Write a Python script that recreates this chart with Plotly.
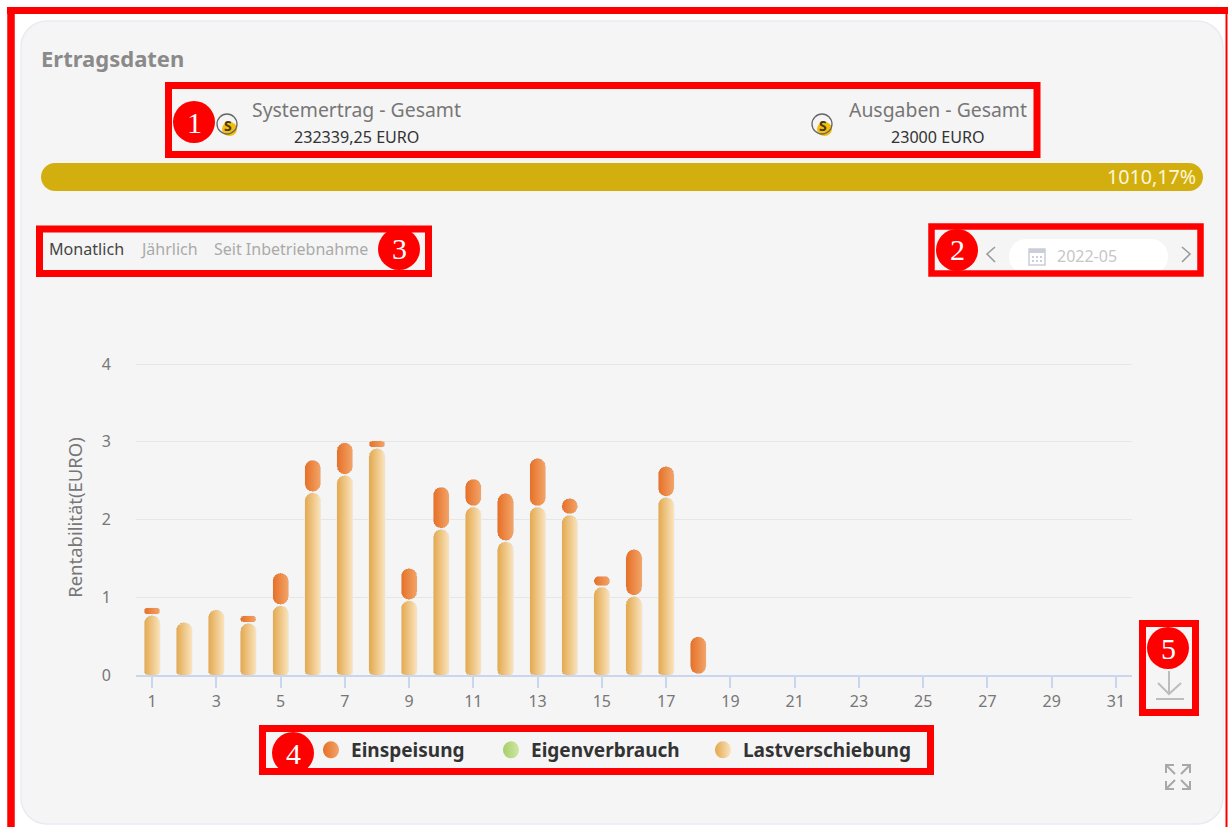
import plotly.graph_objects as go

days = list(range(1, 32))
tick_days = list(range(1, 32, 2))
lastverschiebung = [0.767, 0.677, 0.84, 0.665, 0.892, 2.345, 2.568, 2.915, 0.956, 1.874, 2.161, 1.715,
                    2.161, 2.058, 1.132, 1.012, 2.285, 0] + [0] * 13
einspeisung = [0.099, 0, 0, 0.098, 0.42, 0.42, 0.42, 0.095, 0.416, 0.544, 0.36, 0.622,
               0.626, 0.214, 0.141, 0.604, 0.399, 0.493] + [0] * 13
eigenverbrauch = [0] * 31

L, R, T, B = 136, 1132, 360, 675
UNIT = 77.75
PX = lambda x: (x - L) / (R - L)
PY = lambda y: 1 - (y - T) / (B - T)
RED = "#ff0000"
shapes, notes = [], []


def path(d, line=None, width=0, fill=None, layer="above"):
    shapes.append(dict(type="path", xref="paper", yref="paper", path=d, layer=layer,
                       fillcolor=fill or "rgba(0,0,0,0)",
                       line=dict(color=line or "rgba(0,0,0,0)", width=width)))


def poly(pts, color, width, layer="above"):
    d = "M" + " L".join(f"{PX(x):.5f},{PY(y):.5f}" for x, y in pts)
    path(d, color, width, None, layer)


def rr(x0, y0, x1, y1, r):
    p = lambda x, y: f"{PX(x):.5f},{PY(y):.5f}"
    k = r * 0.45
    return (f"M{p(x0 + r, y0)} L{p(x1 - r, y0)} C{p(x1 - k, y0)} {p(x1, y0 + k)} {p(x1, y0 + r)} L{p(x1, y1 - r)} "
            f"C{p(x1, y1 - k)} {p(x1 - k, y1)} {p(x1 - r, y1)} L{p(x0 + r, y1)} C{p(x0 + k, y1)} {p(x0, y1 - k)} {p(x0, y1 - r)} "
            f"L{p(x0, y0 + r)} C{p(x0, y0 + k)} {p(x0 + k, y0)} {p(x0 + r, y0)} Z")


def box(x0, y0, x1, y1, line=None, width=0, fill=None, layer="above", kind="rect"):
    shapes.append(dict(type=kind, xref="paper", yref="paper", x0=PX(x0), x1=PX(x1), y0=PY(y0), y1=PY(y1),
                       layer=layer, fillcolor=fill or "rgba(0,0,0,0)",
                       line=dict(color=line or "rgba(0,0,0,0)", width=width)))


def text(x, y, s, size, color, anchor="left", bold=False, family="Noto Sans"):
    notes.append(dict(xref="paper", yref="paper", x=PX(x), y=PY(y), text=f"<b>{s}</b>" if bold else s,
                      showarrow=False, xanchor=anchor, yanchor="middle", borderpad=0,
                      font=dict(size=size, color=color, family=family)))


# card and progress bar
path(rr(21, 21, 1223, 824, 26), "#e9ebf2", 1.5, "#f5f5f5", "below")
path(rr(41, 163, 1203, 191, 14), None, 0, "#d2af0f", "below")
path(rr(1009, 239, 1168, 274, 17), None, 0, "#ffffff", "below")

# coin icons
for cx in (228, 823):
    box(cx - 6, 122, cx + 9, 136, fill="#f5bd0c", kind="circle")
    box(cx - 11, 114, cx + 9, 134, "#666666", 1.3, kind="circle")
    text(cx, 125, "S", 14, "#4a3a10", "center", True)

# chevrons
poly([(995, 247), (987, 254), (995, 262)], "#9a9a9a", 1.6)
poly([(1182, 247), (1190, 254), (1182, 262)], "#9a9a9a", 1.6)

# calendar icon
box(1029, 249, 1045, 265, "#c9ced8", 1.5)
box(1029, 249, 1045, 253, None, 0, "#c9ced8")
for gx in (1033, 1037, 1041):
    for gy in (257, 261):
        box(gx - 1, gy - 1, gx + 1, gy + 1, None, 0, "#c9ced8")

# download icon
poly([(1169, 671), (1169, 694)], "#bdbdbd", 2)
poly([(1158, 683), (1169, 694), (1181, 683)], "#bdbdbd", 2)
poly([(1156, 699), (1184, 699)], "#bdbdbd", 2)

# expand icon
for (cx, cy, sx, sy) in [(1166, 765, 1, 1), (1190, 765, -1, 1), (1166, 789, 1, -1), (1190, 789, -1, -1)]:
    poly([(cx, cy), (cx + 9 * sx, cy + 9 * sy)], "#a8a8a8", 2)
    poly([(cx + 8 * sx, cy), (cx, cy), (cx, cy + 8 * sy)], "#a8a8a8", 2)

# callout frames
poly([(7, 10.5), (1228, 10.5)], RED, 7)
poly([(11, 7), (11, 827)], RED, 7.5)
poly([(1226.5, 7), (1226.5, 827)], RED, 2)
box(168.5, 85.5, 1037, 154.5, RED, 7)
box(931.5, 226.5, 1200.5, 273.5, RED, 6.5)
box(39.5, 229, 428.5, 273.5, RED, 7)
box(262.5, 728.5, 930.5, 771.5, RED, 7)
box(1142.5, 623.5, 1195.5, 712.5, RED, 7)

for n, cx, cy in [(1, 194, 122), (2, 957, 250), (3, 399, 249), (4, 293, 753), (5, 1168, 648)]:
    box(cx - 21, cy - 21, cx + 21, cy + 21, None, 0, RED, kind="circle")
    text(cx, cy, str(n), 30, "#ffffff", "center", family="Liberation Serif")

# texts
text(40, 58, "Ertragsdaten", 22, "#8a8a8a", bold=True)
text(251, 109, "Systemertrag - Gesamt", 19.4, "#777777")
text(848, 109, "Ausgaben - Gesamt", 19.4, "#777777")
text(293, 137, "232339,25 EURO", 16.1, "#333333")
text(890, 137, "23000 EURO", 16.1, "#333333")
text(1197, 177, "1010,17%", 19.7, "#fff6d8", "right")
text(48, 249, "Monatlich", 16.1, "#444444")
text(139, 249, "Jährlich", 16, "#aaaaaa")
text(213, 249, "Seit Inbetriebnahme", 16, "#aaaaaa")
text(1056, 256, "2022-05", 16, "#c6c6c6")

fig = go.Figure()
fig.add_bar(x=days, y=lastverschiebung, name="Lastverschiebung", marker_color="#eebf7c", legendrank=3)
fig.add_bar(x=days, y=eigenverbrauch, name="Eigenverbrauch", marker_color="#b8db85", legendrank=2)
fig.add_bar(x=days, y=einspeisung, name="Einspeisung", marker_color="#eb8840", legendrank=1)

fig.update_layout(
    width=1228, height=827, barmode="stack", bargap=0.5,
    margin=dict(l=L, r=1228 - R, t=T, b=827 - B, pad=0),
    paper_bgcolor="#ffffff", plot_bgcolor="rgba(0,0,0,0)",
    font=dict(family="Noto Sans", color="#777777"),
    shapes=shapes, annotations=notes,
    xaxis=dict(range=[0.5, 31.5], tickmode="array", tickvals=tick_days, ticks="outside", ticklen=11,
               tickwidth=1.5, tickcolor="#c9d6ee", showline=True, linecolor="#c9d6ee", linewidth=1.5,
               showgrid=False, zeroline=False, tickfont=dict(size=16, color="#777777")),
    yaxis=dict(range=[0, (B - T) / UNIT], tickmode="array", tickvals=[0, 1, 2, 3, 4], showgrid=True,
               gridcolor="#e6e6e6", gridwidth=1.3, zeroline=False, showline=False, ticks="", ticklabelstandoff=24,
               tickfont=dict(size=16, color="#777777"),
               title=dict(text="Rentabilität(EURO)", font=dict(size=18.5, color="#777777"), standoff=14)),
    legend=dict(orientation="h", xanchor="left", yanchor="middle", x=PX(311), y=PY(750),
                font=dict(size=19, color="#333333", family="Noto Sans", weight=700), itemclick=False,
                itemdoubleclick=False, bgcolor="rgba(0,0,0,0)", traceorder="normal"),
)

post = r"""
document.body.style.margin='0';document.body.style.overflow='hidden';
var gd=document.getElementById('{plot_id}');
var svg=gd.querySelector('svg.main-svg');
var NS='http://www.w3.org/2000/svg';
var defs=svg.querySelector('defs');
var G={Lastverschiebung:['#e3a84c','#fae4bf'],Eigenverbrauch:['#a5cf6b','#d0e7a2'],Einspeisung:['#e66f26','#f2a56a']};
Object.keys(G).forEach(function(k){
  var g=document.createElementNS(NS,'linearGradient');g.setAttribute('id','g'+k);
  g.setAttribute('x1','0');g.setAttribute('x2','1');g.setAttribute('y1','0');g.setAttribute('y2','0');
  G[k].forEach(function(c,i){var s=document.createElementNS(NS,'stop');s.setAttribute('offset',i);s.setAttribute('stop-color',c);g.appendChild(s);});
  defs.appendChild(g);
});
function round(x0,y0,x1,y1,rt,rb){
  var w=x1-x0,h=y1-y0;rt=Math.min(rt,w/2,h/2);rb=Math.min(rb,w/2,h/2);
  var A=function(r,x,y){return 'A'+r+','+r+' 0 0 1 '+x+','+y;};
  return 'M'+(x0+rt)+','+y0+'L'+(x1-rt)+','+y0+A(rt,x1,y0+rt)+'L'+x1+','+(y1-rb)+A(rb,x1-rb,y1)+'L'+(x0+rb)+','+y1+A(rb,x0,y1-rb)+'L'+x0+','+(y0+rt)+A(rt,x0+rt,y0)+'Z';
}
var names=['Lastverschiebung','Eigenverbrauch','Einspeisung'];
gd.querySelectorAll('.barlayer .trace').forEach(function(t,i){
  var n=names[i];
  t.querySelectorAll('.point path').forEach(function(p){
    var b=p.getBBox();
    if(b.height<=0.01||b.width<=0.01){p.style.display='none';return;}
    var gap=n==='Einspeisung'?1:0;
    p.setAttribute('d',round(b.x,b.y,b.x+b.width,b.y+b.height-gap,8,n==='Lastverschiebung'?4:8));
    p.style.fill='url(#g'+n+')';
  });
});
var pos={Einspeisung:0,Eigenverbrauch:180,Lastverschiebung:392};
var sb=gd.querySelector('.legend .scrollbox');if(sb){sb.removeAttribute('clip-path');sb.style.clipPath='none';}
var lg=gd.querySelector('.legend');if(lg){lg.removeAttribute('clip-path');lg.style.clipPath='none';}
gd.querySelectorAll('.legend .traces').forEach(function(t){
  var n=t.querySelector('.legendtext').textContent;
  var m=/translate\(([-\d.]+),\s*([-\d.]+)\)/.exec(t.getAttribute('transform'));
  t.setAttribute('transform','translate('+pos[n]+','+m[2]+')');
  var p=t.querySelector('.legendpoints path');
  if(p){p.setAttribute('d',round(-8,-8.5,8,8.5,8.5,8.5));p.style.fill='url(#g'+n+')';p.style.stroke='none';}
});
"""

fig.write_html("out.html", post_script=post, config=dict(displayModeBar=False))
